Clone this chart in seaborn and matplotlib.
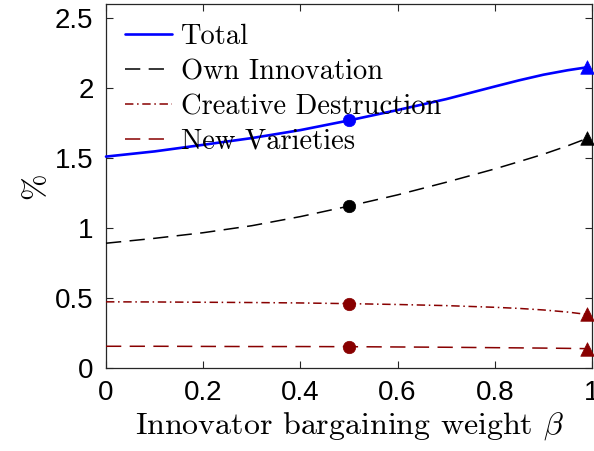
import numpy as np
import pandas as pd
import matplotlib
matplotlib.use("Agg")
import matplotlib.pyplot as plt
import seaborn as sns

# Innovator bargaining weight grid
beta = [0.0, 0.1, 0.2, 0.3, 0.4, 0.5, 0.6, 0.7, 0.8, 0.85, 0.9, 0.95, 0.99]

# Growth contributions (%)
total = [1.508, 1.545, 1.592, 1.640, 1.697, 1.766, 1.840, 1.918, 2.008, 2.052, 2.092, 2.124, 2.145]
own_innovation = [0.890, 0.925, 0.965, 1.015, 1.080, 1.155, 1.235, 1.325, 1.420, 1.472, 1.525, 1.585, 1.638]
creative_destruction = [0.472, 0.471, 0.469, 0.467, 0.464, 0.459, 0.453, 0.445, 0.433, 0.425, 0.414, 0.399, 0.382]
new_varieties = [0.155, 0.155, 0.154, 0.153, 0.153, 0.152, 0.150, 0.148, 0.145, 0.1435, 0.142, 0.140, 0.138]

labels = ["Total", "Own Innovation", "Creative Destruction", "New Varieties"]
x_ticks = [0, 0.2, 0.4, 0.6, 0.8, 1]
x_ticklabels = ["0", "0.2", "0.4", "0.6", "0.8", "1"]
y_ticks = [0, 0.5, 1, 1.5, 2, 2.5]
y_ticklabels = ["0", "0.5", "1", "1.5", "2", "2.5"]

# Markers: circle at the symmetric split, triangle at the largest innovator weight
beta_mid = 0.5
beta_end = 0.99

sns.set_style("ticks")
plt.rcParams["mathtext.fontset"] = "cm"
plt.rcParams["text.color"] = "black"

df = pd.DataFrame({
    "beta": beta,
    labels[0]: total,
    labels[1]: own_innovation,
    labels[2]: creative_destruction,
    labels[3]: new_varieties,
})

W, H = 594, 451
fig = plt.figure(figsize=(W / 100, H / 100), dpi=100)
ax = fig.add_axes([106 / W, (H - 368) / H, (592 - 106) / W, (368 - 3.5) / H])

dark_red = "#880000"
styles = {
    labels[0]: dict(color="#0000ff", lw=1.9, ls="-"),
    labels[1]: dict(color="black", lw=1.1, ls=(0, (10, 5.5))),
    labels[2]: dict(color=dark_red, lw=1.1, ls=(0, (5.5, 2.4, 1.0, 2.4))),
    labels[3]: dict(color=dark_red, lw=1.1, ls=(0, (10, 5.5))),
}

for name in labels:
    st = styles[name]
    sns.lineplot(data=df, x="beta", y=name, ax=ax, color=st["color"],
                 linewidth=st["lw"], linestyle=st["ls"], label=name,
                 clip_on=False, zorder=3)
    mid = df[df["beta"] == beta_mid]
    end = df[df["beta"] == beta_end]
    sns.scatterplot(x=mid["beta"], y=mid[name], ax=ax, color=st["color"],
                    marker="o", s=80, edgecolor=st["color"], linewidth=0.5,
                    clip_on=False, zorder=4, legend=False)
    sns.scatterplot(x=end["beta"], y=end[name], ax=ax, color=st["color"],
                    marker="^", s=95, edgecolor=st["color"], linewidth=0.5,
                    clip_on=False, zorder=4, legend=False)

ax.set_xlim(0, 1)
ax.set_ylim(0, 2.6)
ax.set_xticks(x_ticks)
ax.set_xticklabels(x_ticklabels)
ax.set_yticks(y_ticks)
ax.set_yticklabels(y_ticklabels)

for lab in ax.get_xticklabels() + ax.get_yticklabels():
    lab.set_fontfamily("Liberation Sans")
    lab.set_fontsize(20)
    lab.set_color("black")

ax.tick_params(axis="both", which="major", direction="in", length=5, width=0.8,
               color="#262626", top=True, right=True, pad=9)
for sp in ax.spines.values():
    sp.set_visible(True)
    sp.set_color("#262626")
    sp.set_linewidth(0.9)

ax.set_xlabel(r"Innovator bargaining weight $\beta$", fontfamily="cmr10",
              fontsize=23, labelpad=3, color="black")
ax.set_ylabel("%", fontfamily="cmr10", fontsize=23, labelpad=4, color="black")

leg = ax.legend(loc="upper left", bbox_to_anchor=(125 / W, (H - 24) / H),
                bbox_transform=fig.transFigure, frameon=False,
                prop=dict(family="cmr10", size=20.5), handlelength=1.65,
                handletextpad=0.3, labelspacing=0.3, borderpad=0,
                borderaxespad=0)
for t in leg.get_texts():
    t.set_color("black")

fig.savefig("out.png", dpi=100)
